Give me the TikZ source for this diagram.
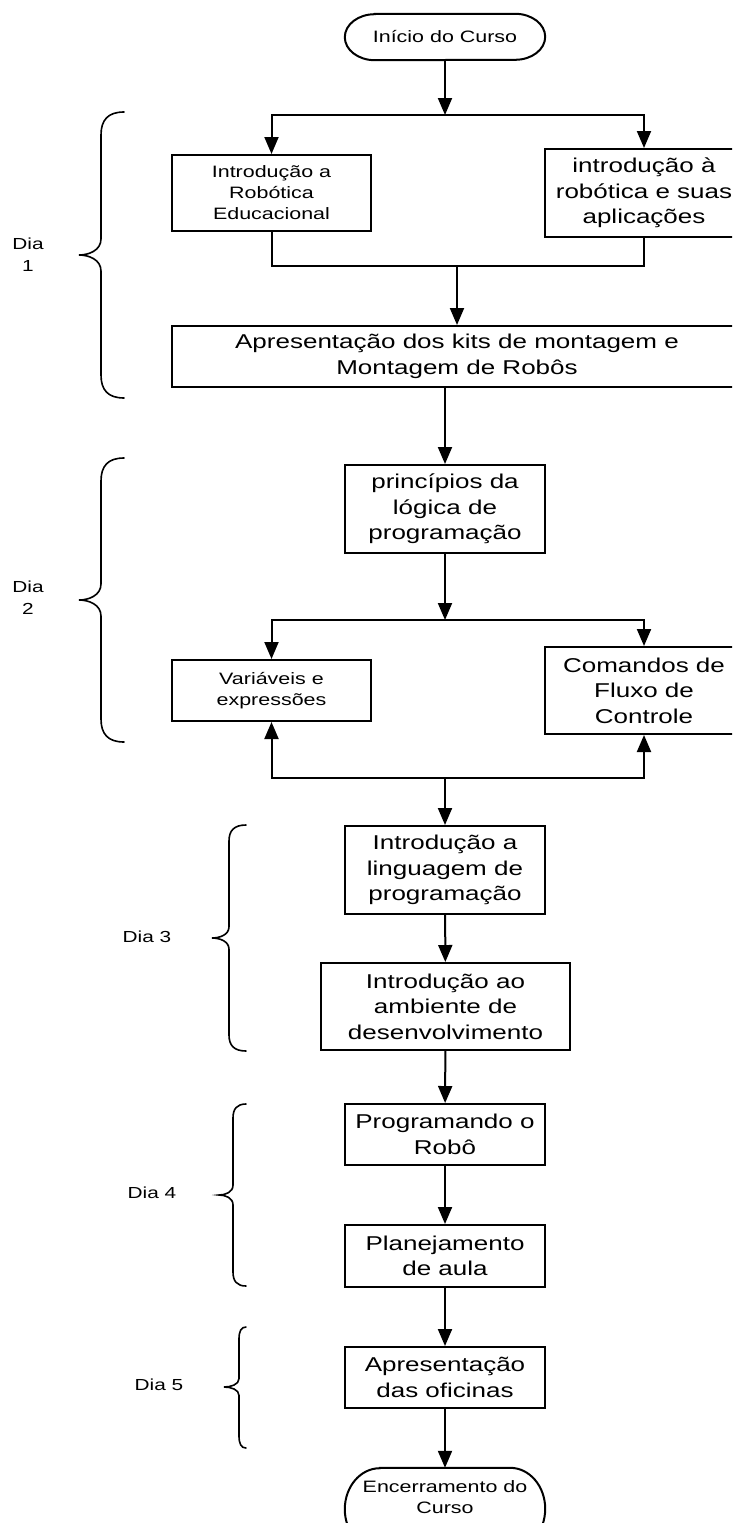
\documentclass[tikz,border=0pt]{standalone}
\usepackage{fontspec}
\setmainfont{Liberation Sans}[FakeStretch=1.3]
\usetikzlibrary{arrows.meta}
\newcommand{\daybrace}[7]{% #1 x end, #2 x spine, #3 x tip, #4 y top, #5 y tip, #6 y bottom, #7 curve
  \draw[brace] (#1,#4) .. controls ({#2+0.3*(#1-#2)},#4) and (#2,{#4+0.35*#7}) .. (#2,{#4+#7})
    -- (#2,{#5-0.7*#7}) .. controls (#2,{#5-0.2*#7}) and ({#3+0.45*(#2-#3)},#5) .. (#3,#5)
    .. controls ({#3+0.45*(#2-#3)},#5) and (#2,{#5+0.2*#7}) .. (#2,{#5+0.7*#7})
    -- (#2,{#6-#7}) .. controls (#2,{#6-0.35*#7}) and ({#2+0.3*(#1-#2)},#6) .. (#1,#6);}
\begin{document}
\begin{tikzpicture}[x=1pt,y=-1pt,
  box/.style={draw, line width=2pt, inner sep=0pt, align=center, minimum width=200pt},
  sm/.style={font=\fontsize{16.5}{21}\selectfont},
  bg/.style={font=\fontsize{20}{25.4}\selectfont},
  term/.style={inner sep=0pt, align=center, minimum width=200pt},
  arr/.style={line width=2pt, -{Triangle[length=17pt,width=14pt]}},
  ln/.style={line width=2pt},
  brace/.style={line width=1.6pt, line cap=round},
  lbl/.style={font=\fontsize{16}{22}\selectfont, align=center}]
\useasboundingbox (0,0) rectangle (732,1523);
\clip (0,0) rectangle (732,1523);
\fill[white] (0,0) rectangle (732,1523);

% terminals
\node[term, sm, minimum height=46pt] (start) at (445,37) {Início do Curso};
\draw[ln] ([xshift=30pt]start.north west) -- ([xshift=-30pt]start.north east)
  arc[start angle=90, end angle=-90, x radius=30pt, y radius=23pt]
  -- ([xshift=30pt]start.south west)
  arc[start angle=270, end angle=90, x radius=30pt, y radius=23pt] -- cycle;

% boxes
\node[box, sm, minimum width=199pt, minimum height=76pt] (b1L) at (271.5,193) {Introdução a\\Robótica\\Educacional};
\node[box, bg, minimum width=198pt, minimum height=88pt] (b1R) at (644,193) {introdução à\\robótica e suas\\aplicações};
\node[box, bg, minimum width=570pt, minimum height=61pt] (kits) at (457,356.5) {Apresentação dos kits de montagem e\\Montagem de Robôs};
\node[box, bg, minimum height=88pt] (princ) at (445,509) {princípios da\\lógica de\\programação};
\node[box, sm, minimum width=199pt, minimum height=61pt] (var) at (271.5,690.5) {Variáveis e\\expressões};
\node[box, bg, minimum width=198pt, minimum height=87pt] (cmd) at (644,690.5) {Comandos de\\Fluxo de\\Controle};
\node[box, bg, minimum height=88pt] (ling) at (445,870) {Introdução a\\linguagem de\\programação};
\node[box, bg, minimum width=249pt, minimum height=87pt] (amb) at (445.5,1006.5) {Introdução ao\\ambiente de\\desenvolvimento};
\node[box, bg, minimum height=61pt] (prog) at (445,1134.5) {Programando o\\Robô};
\node[box, bg, minimum height=62pt] (plan) at (445,1256) {Planejamento\\de aula};
\node[box, bg, minimum height=61pt] (ofic) at (445,1377.5) {Apresentação\\das oficinas};

\node[term, sm, minimum height=82pt] (end) at (445,1509) {};
\node[sm, align=center, inner sep=0pt] (endtxt) at (445,1497) {Encerramento do\\Curso};
\draw[ln] ([xshift=35pt]end.north west) -- ([xshift=-35pt]end.north east)
  arc[start angle=90, end angle=-90, x radius=35pt, y radius=41pt]
  -- ([xshift=35pt]end.south west)
  arc[start angle=270, end angle=90, x radius=35pt, y radius=41pt] -- cycle;

% junctions
\coordinate (j1) at (445,115);
\coordinate (m1) at (457,266);
\coordinate (j2) at (445,620);
\coordinate (j3) at (445,778);

% connectors
\draw[arr] (start.south) -- (j1);
\draw[arr] (j1) -| (b1L.north);
\draw[arr] (j1) -| (b1R.north);
\draw[ln] (b1L.south) |- (m1);
\draw[ln] (b1R.south) |- (m1);
\draw[arr] (m1) -- (kits.north);
\draw[arr] (kits.south -| princ.north) -- (princ.north);
\draw[arr] (princ.south) -- (j2);
\draw[arr] (j2) -| (var.north);
\draw[arr] (j2) -| (cmd.north);
\draw[arr] (j3) -| (var.south);
\draw[arr] (j3) -| (cmd.south);
\draw[arr] (j3) -- (ling.north);
\draw[arr] (ling) -- (amb);
\draw[arr] (amb) -- (prog);
\draw[arr] (prog) -- (plan);
\draw[arr] (plan) -- (ofic);
\draw[arr] (ofic) -- (end);

% braces and day labels
\daybrace{124}{101}{79}{112}{255}{398}{23}
\daybrace{124}{101}{79}{458}{600}{742}{23}
\daybrace{246}{229}{212}{825}{938}{1051}{16}
\daybrace{246}{233}{219}{1104}{1195}{1286}{14}
\daybrace{246}{239}{224}{1327}{1387}{1448}{12}
\node[lbl] (d1) at (28,255) {Dia\\1};
\node[lbl] (d2) at (28,598) {Dia\\2};
\node[lbl] (d3) at (147,937) {Dia 3};
\node[lbl] (d4) at (152,1193) {Dia 4};
\node[lbl] (d5) at (159,1385) {Dia 5};
\end{tikzpicture}
\end{document}
